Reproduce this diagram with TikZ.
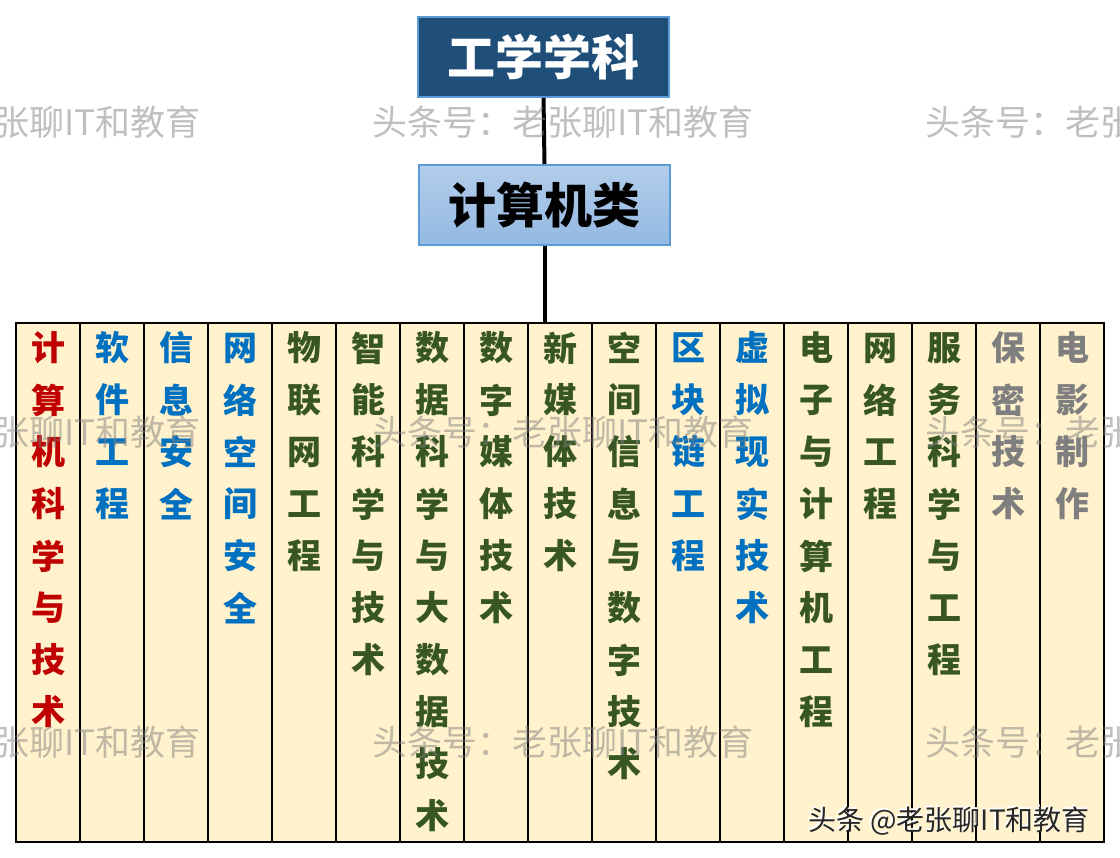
\documentclass[tikz,border=0pt]{standalone}
\usepackage{fontspec}
\newfontfamily\cjk{Noto Sans CJK SC}
\definecolor{cred}{HTML}{C00000}
\definecolor{cblue}{HTML}{0070C0}
\definecolor{cgreen}{HTML}{375623}
\definecolor{cgray}{HTML}{7F7F7F}
\definecolor{colfill}{HTML}{FFF2CC}
\definecolor{topfill}{HTML}{1F4E79}
\definecolor{boxedge}{HTML}{5B9BD5}
\definecolor{midtop}{HTML}{B3CDEA}
\definecolor{midbot}{HTML}{94B9E3}
\begin{document}
\begin{tikzpicture}[x=1pt,y=-1pt,
  colbox/.style={draw=black, line width=2pt, fill=colfill, minimum width=64pt,
    minimum height=519pt, inner sep=0pt, anchor=north},
  chr/.style={font=\cjk\bfseries\fontsize{34}{34}\selectfont, inner sep=0pt},
  topbox/.style={draw=boxedge, line width=2pt, fill=topfill, minimum width=251pt,
    minimum height=80pt, inner sep=0pt, text=white,
    font=\cjk\bfseries\fontsize{48}{48}\selectfont},
  midbox/.style={draw=boxedge, line width=2pt, top color=midtop, bottom color=midbot,
    minimum width=251pt, minimum height=80pt, inner sep=0pt, text=black,
    font=\cjk\bfseries\fontsize{48}{48}\selectfont},
  conn/.style={draw=black, line width=4pt},
  wm/.style={font=\cjk\fontsize{35}{35}\selectfont, text=gray, text opacity=0.5,
    inner sep=0pt, anchor=west},
  credit/.style={font=\cjk\fontsize{28}{28}\selectfont, inner sep=0pt, anchor=west}
]
\useasboundingbox (0,0) rectangle (1120,858);
\fill[white] (0,0) rectangle (1120,858);

\node[topbox] (top) at (543.5,57) {工学学科};
\node[midbox] (mid) at (544.5,205) {计算机类};

\foreach \txt/\clr [count=\i] in {
  {计,算,机,科,学,与,技,术}/cred,
  {软,件,工,程}/cblue,
  {信,息,安,全}/cblue,
  {网,络,空,间,安,全}/cblue,
  {物,联,网,工,程}/cgreen,
  {智,能,科,学,与,技,术}/cgreen,
  {数,据,科,学,与,大,数,据,技,术}/cgreen,
  {数,字,媒,体,技,术}/cgreen,
  {新,媒,体,技,术}/cgreen,
  {空,间,信,息,与,数,字,技,术}/cgreen,
  {区,块,链,工,程}/cblue,
  {虚,拟,现,实,技,术}/cblue,
  {电,子,与,计,算,机,工,程}/cgreen,
  {网,络,工,程}/cgreen,
  {服,务,科,学,与,工,程}/cgreen,
  {保,密,技,术}/cgray,
  {电,影,制,作}/cgray}{
  \node[colbox] (col\i) at ({48+64*(\i-1)},322) {};
  \foreach \ch [count=\j] in \txt {
    \node[chr, text=\clr] (t\i-\j) at ({48+64*(\i-1)},{348+52*(\j-1)}) {\ch};
  }
}

\draw[conn] (top.south) -- (mid.north);
\draw[conn] (mid.south) -- (mid.south |- col9.north);

\begin{scope}
  \clip (0,0) rectangle (1120,858);
  \foreach \yy [count=\r] in {122,432,742}{
    \foreach \xx [count=\c] in {-181,372,925}{
      \node[wm] (wm\r-\c) at (\xx,\yy) {头条号：老张聊IT和教育};
    }
  }
\end{scope}

\node[credit, text=white] (creditsh) at (806.5,819.5) {头条 @老张聊IT和教育};
\node[credit, text=black!85] (credit) at (808,821) {头条 @老张聊IT和教育};
\end{tikzpicture}
\end{document}
